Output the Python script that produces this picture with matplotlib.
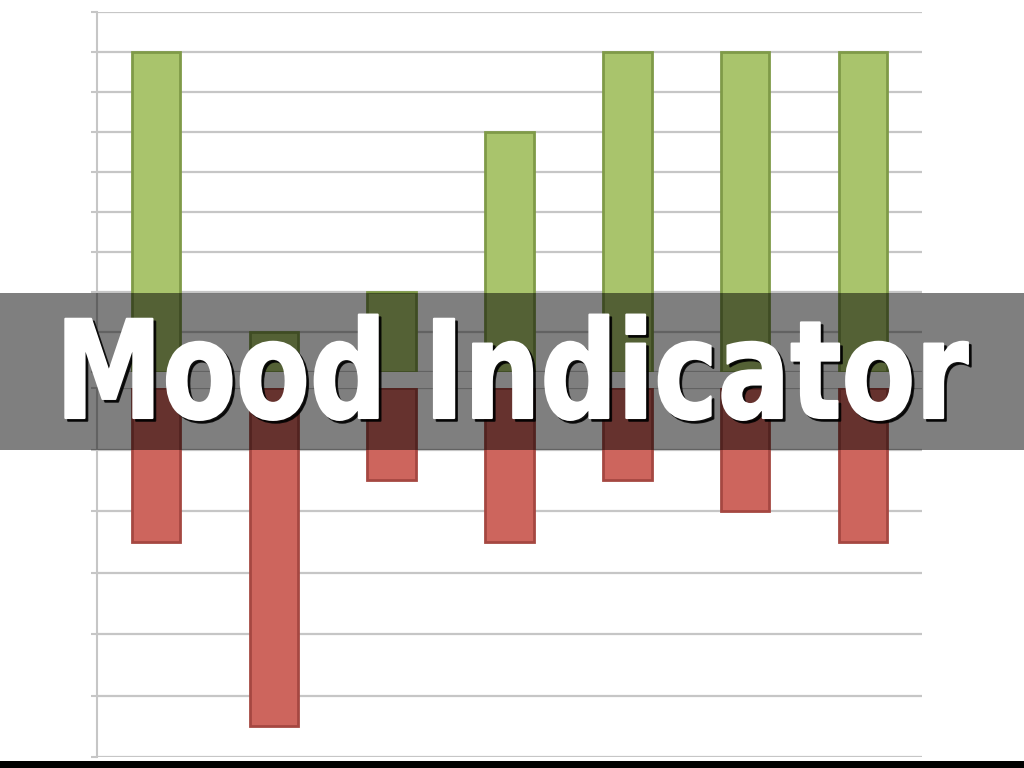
import matplotlib
matplotlib.use("Agg")
import matplotlib.pyplot as plt
import matplotlib.patheffects as pe
from matplotlib.patches import Rectangle
from matplotlib.transforms import Affine2D

# mood data, one bar per day
days = [0, 1, 2, 3, 4, 5, 6]
good_mood = [8, 1, 2, 6, 8, 8, 8]
bad_mood = [-2.5, -5.5, -1.5, -2.5, -1.5, -2, -2.5]
title = "Mood Indicator"

grid_col = "#c6c6c6"


class Reshape(pe.AbstractPathEffect):
    """draws the text path rescaled around (cx, cy) in display px, with a thickening stroke"""
    def __init__(self, sx, sy, cx, cy, offset=(0, 0), color="white", alpha=None, lw=1.5):
        super().__init__(offset)
        self.sx, self.sy = sx, sy
        self.cx, self.cy = cx, cy
        self.color = color
        self.alpha = alpha
        self.lw = lw

    def draw_path(self, renderer, gc, tpath, affine, rgbFace=None):
        aff = (affine + Affine2D().translate(-self.cx, -self.cy).scale(self.sx, self.sy)
               .translate(self.cx, self.cy) + self._offset_transform(renderer))
        gc0 = renderer.new_gc()
        gc0.copy_properties(gc)
        gc0.set_foreground(self.color)
        gc0.set_linewidth(self.lw)
        gc0.set_joinstyle("round")
        if self.alpha is not None:
            gc0.set_alpha(self.alpha)
        renderer.draw_path(gc0, tpath, aff, matplotlib.colors.to_rgb(self.color))
        gc0.restore()


fig = plt.figure(figsize=(10.24, 7.68), dpi=100)
fig.patch.set_facecolor("white")

ax_top = fig.add_axes([97/1024, 1 - 372/768, 825/1024, 360/768])
ax_bot = fig.add_axes([97/1024, 1 - 757/768, 825/1024, 369/768])


def style_axis(ax, lo, hi, step):
    ax.set_xlim(-0.5, 6.5)
    ax.set_ylim(lo, hi)
    ticks = []
    v = lo
    while v <= hi + 1e-9:
        ticks.append(v)
        v += step
    ax.set_yticks(ticks)
    ax.set_xticks([])
    ax.set_yticklabels([])
    ax.tick_params(axis="y", direction="out", length=4, width=1.5, color=grid_col)
    for s in ["top", "right", "bottom"]:
        ax.spines[s].set_visible(False)
    ax.spines["left"].set_color(grid_col)
    ax.spines["left"].set_linewidth(1.5)
    ax.grid(axis="y", color=grid_col, linewidth=1.6)
    ax.set_axisbelow(True)
    ax.patch.set_alpha(0)


style_axis(ax_top, 0, 9, 1)
style_axis(ax_bot, -6, 0, 1)

ax_top.bar(days, good_mood, width=0.41, color="#a9c46c", edgecolor="#7f9a48", linewidth=2)
ax_bot.bar(days, bad_mood, width=0.41, color="#cd655d", edgecolor="#a54741", linewidth=2)

# banner across the middle
fig.patches.append(Rectangle((0, 1 - 450/768), 1, 157/768, transform=fig.transFigure,
                             facecolor="black", alpha=0.5, zorder=10))
# dark strip along the bottom edge
fig.patches.append(Rectangle((0, 0), 1, 7/768, transform=fig.transFigure,
                             facecolor="black", zorder=10))

fs = 80
base_y = 1 - 418/768
txt = fig.text(0.5, base_y, title, ha="center", va="baseline",
               fontsize=fs, fontweight="bold", color="white",
               family=["DejaVu Sans"], zorder=11)

# heading: caps ~100 px tall (98 pt) and ~913 px wide like the reference
fig.canvas.draw()
w = txt.get_window_extent().width
sx = 913 / w
sy = 98 / fs
cx = 0.5 * fig.bbox.width
cy = base_y * fig.bbox.height
txt.set_path_effects([
    Reshape(sx, sy, cx, cy, offset=(2, -2), color="black", alpha=0.85),
    Reshape(sx, sy, cx, cy),
])

fig.savefig("out.png", dpi=100)
